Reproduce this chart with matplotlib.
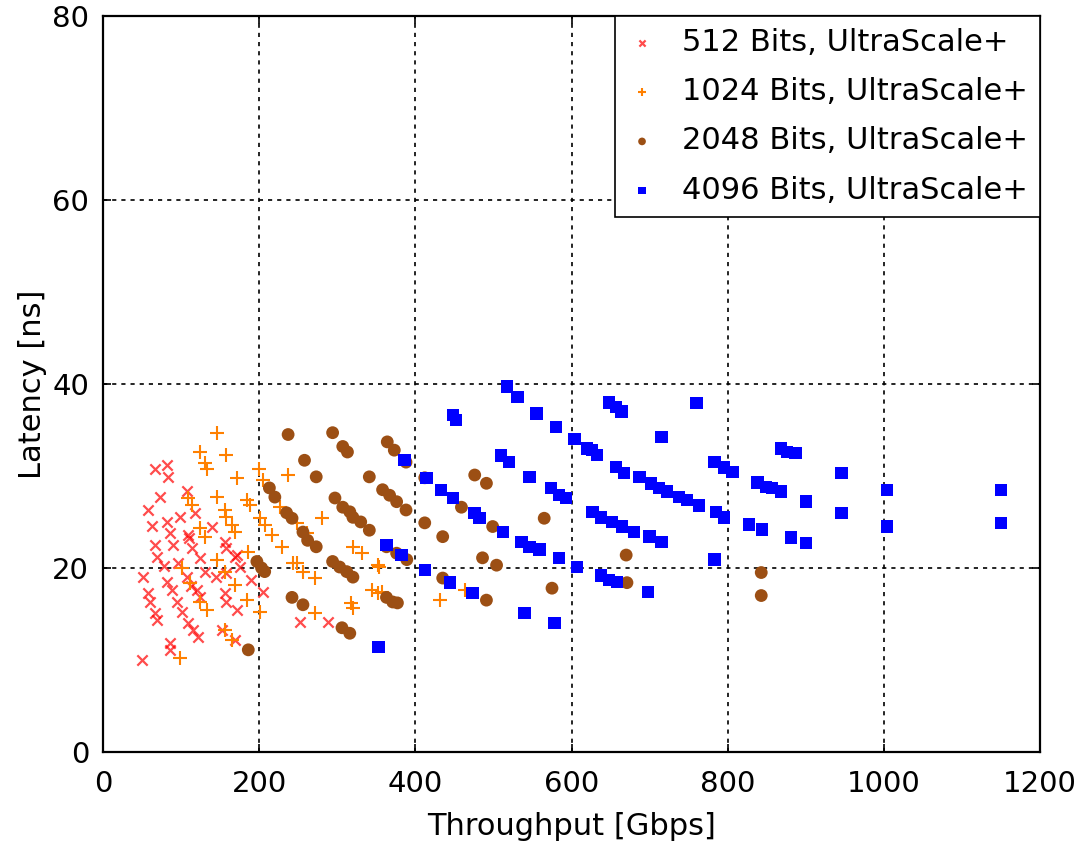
import matplotlib
matplotlib.use("Agg")
import matplotlib.pyplot as plt

# 512 Bits
x512 = [66, 82, 83, 73, 107, 58, 63, 82, 98, 118, 109, 86, 66, 90, 114, 124, 156, 158, 169, 69,
        96, 130, 51, 82, 88, 107, 120, 124, 58, 60, 95, 66, 69, 101, 109, 115, 121, 158, 156, 171,
        152, 169, 190, 205, 175, 86, 86, 50, 158, 171, 252, 288, 110, 112, 78, 140, 145]
y512 = [30.7, 31.2, 29.9, 27.7, 28.4, 26.3, 24.6, 25.0, 25.5, 26.0, 23.6, 23.8, 22.5, 22.5, 22.2, 21.1, 22.8, 22.2, 21.2, 21.2,
        20.5, 19.6, 19.0, 18.5, 17.6, 19.0, 17.6, 16.8, 17.3, 16.3, 16.3, 15.1, 14.3, 15.2, 14.0, 13.3, 12.5, 16.3, 17.3, 15.4,
        13.3, 12.2, 18.7, 17.4, 20.1, 11.8, 11.1, 10.0, 19.5, 21.4, 14.1, 14.1, 23.2, 18.0, 20.2, 24.5, 19.0]

# 1024 Bits
x1024 = [146, 124, 158, 130, 133, 171, 200, 237, 205, 146, 109, 114, 184, 188, 156, 158, 165, 169, 201, 207,
         216, 229, 124, 130, 146, 185, 243, 101, 156, 111, 169, 124, 133, 184, 201, 156, 165, 98, 226, 248,
         261, 280, 248, 256, 271, 320, 331, 352, 345, 352, 318, 320, 271, 354, 357, 431, 463]
y1024 = [34.7, 32.6, 32.3, 31.4, 30.7, 29.8, 30.7, 30.1, 29.6, 27.7, 27.6, 26.8, 27.4, 26.8, 26.3, 25.5, 24.7, 23.9, 25.4, 24.7,
         23.6, 22.3, 24.3, 23.4, 20.9, 21.7, 20.5, 20.0, 19.6, 18.4, 18.2, 16.3, 15.4, 16.5, 15.2, 13.3, 12.2, 10.2, 26.6, 24.9,
         23.8, 25.4, 20.5, 19.6, 18.9, 22.3, 21.6, 20.3, 17.6, 17.3, 16.2, 15.7, 15.1, 20.1, 17.4, 16.5, 17.6]

# 2048 Bits
x2048 = [237, 294, 307, 313, 364, 373, 388, 258, 273, 341, 213, 220, 297, 307, 316, 320, 358, 367, 376, 388,
         235, 242, 256, 273, 341, 363, 376, 389, 197, 203, 207, 294, 303, 312, 320, 242, 256, 363, 371, 377,
         306, 316, 186, 412, 476, 491, 459, 412, 435, 499, 486, 504, 565, 435, 491, 575, 670, 671, 843, 843,
         262, 330]
y2048 = [34.5, 34.7, 33.2, 32.6, 33.7, 32.8, 31.5, 31.7, 29.9, 29.9, 28.7, 27.7, 27.6, 26.6, 26.1, 25.5, 28.5, 27.9, 27.2, 26.3,
         26.0, 25.4, 23.9, 22.3, 24.1, 22.3, 21.6, 20.9, 20.7, 20.0, 19.6, 20.7, 20.1, 19.6, 19.0, 16.8, 16.0, 16.8, 16.3, 16.2,
         13.5, 12.9, 11.1, 29.8, 30.1, 29.2, 26.6, 24.9, 23.4, 24.5, 21.1, 20.3, 25.4, 18.9, 16.5, 17.8, 21.4, 18.4, 19.5, 17.0,
         23.0, 25.0]

# 4096 Bits
x4096 = [517, 531, 555, 580, 604, 448, 452, 648, 657, 664, 620, 633, 657, 667, 386, 510, 520, 546, 574, 584,
         593, 414, 433, 448, 476, 482, 512, 536, 546, 559, 584, 627, 638, 652, 665, 363, 382, 412, 444, 473,
         540, 578, 607, 638, 648, 658, 353, 760, 715, 687, 702, 712, 722, 738, 748, 763, 783, 795, 806, 868,
         876, 887, 838, 849, 857, 868, 900, 946, 785, 795, 827, 844, 881, 900, 946, 680, 700, 715, 783, 698,
         1004, 1004, 1150, 1150, 626]
y4096 = [39.7, 38.6, 36.8, 35.3, 34.0, 36.6, 36.1, 38.0, 37.5, 37.0, 33.0, 32.3, 31.0, 30.3, 31.7, 32.2, 31.5, 29.9, 28.7, 27.9,
         27.6, 29.8, 28.5, 27.6, 26.0, 25.4, 23.9, 22.8, 22.3, 22.0, 21.1, 26.1, 25.5, 25.0, 24.5, 22.5, 21.4, 19.8, 18.4, 17.3,
         15.1, 14.0, 20.1, 19.2, 18.7, 18.5, 11.4, 37.9, 34.2, 29.9, 29.2, 28.7, 28.3, 27.7, 27.4, 26.8, 31.5, 30.9, 30.4, 33.0,
         32.6, 32.5, 29.3, 28.8, 28.7, 28.3, 27.2, 30.3, 26.1, 25.5, 24.7, 24.2, 23.3, 22.7, 26.0, 23.9, 23.4, 22.8, 20.9, 17.4,
         28.5, 24.5, 28.5, 24.9, 32.8]

labels = ["512 Bits, UltraScale+", "1024 Bits, UltraScale+",
          "2048 Bits, UltraScale+", "4096 Bits, UltraScale+"]

fig = plt.figure(figsize=(10.85, 8.49), dpi=100)
ax = fig.add_axes([0.095, 0.1143, 0.8635, 0.867])

ax.scatter(x512, y512, marker='x', s=55, color='#ff0000', alpha=0.7, linewidths=1.6, label=labels[0], zorder=3)
ax.scatter(x1024, y1024, marker='+', s=110, color='#ff8000', linewidths=1.5, label=labels[1], zorder=3)
ax.scatter(x2048, y2048, marker='o', s=85, color='#9c4f14', edgecolors='none', label=labels[2], zorder=3)
ax.scatter(x4096, y4096, marker='s', s=80, color='#0000ff', edgecolors='none', label=labels[3], zorder=3)

ax.set_xlim(0, 1200)
ax.set_ylim(0, 80)
ax.set_xticks([0, 200, 400, 600, 800, 1000, 1200])
ax.set_yticks([0, 20, 40, 60, 80])
ax.grid(True, color='black', linestyle=(0, (2.5, 3)), linewidth=1.2)
ax.set_axisbelow(True)
ax.tick_params(direction='in', top=True, right=True, labelsize=21, length=6, width=1.2)
ax.tick_params(axis='x', pad=13)
ax.tick_params(axis='y', pad=10)
for sp in ax.spines.values():
    sp.set_linewidth(1.6)
ax.set_xlabel("Throughput [Gbps]", fontsize=22, labelpad=10)
ax.set_ylabel("Latency [ns]", fontsize=22, labelpad=4)

leg = ax.legend(loc='upper right', fontsize=22, markerscale=0.6, frameon=True, fancybox=False,
                edgecolor='black', framealpha=1, borderaxespad=0.0, handletextpad=0.8,
                labelspacing=0.66, borderpad=0.4, handlelength=1.0)
leg.get_frame().set_linewidth(1.2)

fig.savefig("out.png", dpi=100)
